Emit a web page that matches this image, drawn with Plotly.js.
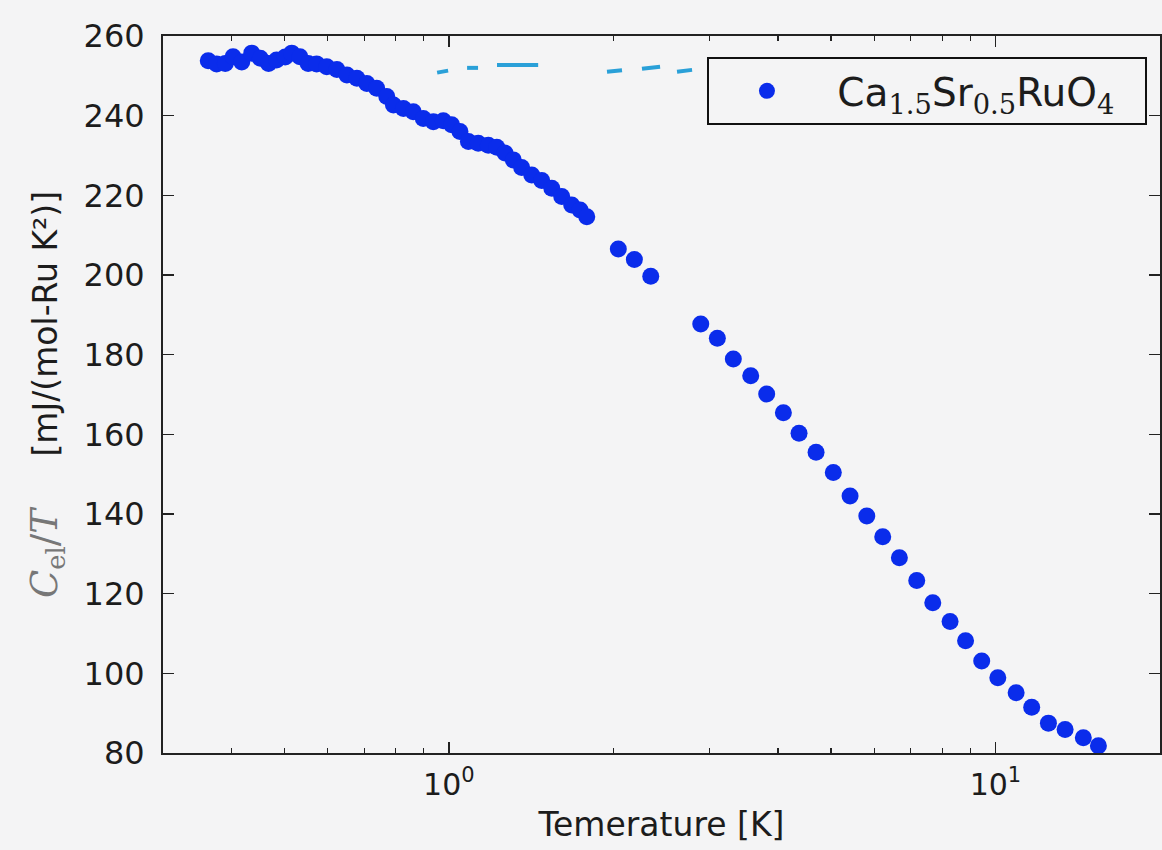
<!DOCTYPE html>
<html>
<head>
<meta charset="utf-8">
<script src="https://cdn.plot.ly/plotly-3.0.1.min.js"></script>
<style>
  html, body { margin: 0; padding: 0; background: #f4f4f5; }
  #chart { width: 1162px; height: 850px; }
</style>
</head>
<body>
<div id="chart"></div>
<script>
// Temperature [K] of the measured points
const temperature = [
  0.363, 0.376, 0.390, 0.403, 0.418, 0.436, 0.452, 0.468, 0.484, 0.502,
  0.516, 0.534, 0.553, 0.573, 0.598, 0.624, 0.651, 0.679, 0.708, 0.738,
  0.770, 0.792, 0.826, 0.861, 0.898, 0.937, 0.977, 1.012, 1.048, 1.086,
  1.132, 1.181, 1.224, 1.267, 1.312, 1.359, 1.418, 1.479, 1.543, 1.609,
  1.678, 1.738, 1.788,
  2.042, 2.185, 2.341, 2.890, 3.099, 3.315, 3.567, 3.815, 4.093, 4.372,
  4.697, 5.051, 5.420, 5.816, 6.220, 6.672, 7.178, 7.680, 8.260, 8.817,
  9.438, 10.10, 10.91, 11.65, 12.50, 13.41, 14.48, 15.43
];
// C_el/T [mJ/(mol-Ru K^2)]
const cElOverT = [
  253.8, 253.0, 253.1, 254.8, 253.5, 255.7, 254.4, 253.1, 254.0, 254.7,
  255.7, 254.8, 253.1, 253.0, 252.3, 251.6, 250.2, 249.4, 248.1, 246.9,
  244.8, 242.7, 241.8, 241.0, 239.3, 238.5, 238.7, 237.7, 236.0, 233.5,
  233.1, 232.6, 232.1, 230.6, 228.9, 227.0, 225.1, 223.7, 221.8, 219.7,
  217.6, 216.3, 214.6,
  206.5, 203.9, 199.7, 187.7, 184.1, 178.9, 174.7, 170.1, 165.4, 160.3,
  155.5, 150.4, 144.5, 139.5, 134.3, 129.0, 123.3, 117.7, 113.0, 108.2,
  103.1, 98.9, 95.1, 91.5, 87.5, 85.9, 83.8, 81.8
];
// hand-drawn cyan pen strokes near the top (null separates strokes)
const strokeT = [0.952, 0.997, null, 1.080, 1.131, null, 1.225, 1.457, null, 1.947, 2.074, null, 2.256, 2.435, null, 2.615, 2.786];
const strokeC = [250.8, 251.3, null, 252.0, 252.0, null, 252.7, 252.7, null, 251.0, 251.4, null, 251.8, 252.3, null, 251.0, 251.5];

const yTicks = [80, 100, 120, 140, 160, 180, 200, 220, 240, 260];
const xMajorTicks = [1, 10];
const xMajorLabels = ['10<sup>0</sup>', '10<sup>1</sup>'];
const xMinorTicks = [0.3, 0.4, 0.5, 0.6, 0.7, 0.8, 0.9, 2, 3, 4, 5, 6, 7, 8, 9, 20];

const sans = "'DejaVu Sans', 'Liberation Sans', sans-serif";
const bg = '#f4f4f5';
const ink = '#1c1c1c';

const legendName = '&nbsp;Ca<sub><span style="font-family:DejaVu Serif">1.5</span></sub>' +
  'Sr<sub><span style="font-family:DejaVu Serif">0.5</span></sub>' +
  'RuO<sub><span style="font-family:DejaVu Serif">4</span></sub>&nbsp;&nbsp;';

const traces = [
  {
    x: strokeT, y: strokeC, type: 'scatter', mode: 'lines',
    line: { color: '#2aa0d8', width: 4 }, showlegend: false, hoverinfo: 'skip'
  },
  {
    x: temperature, y: cElOverT, type: 'scatter', mode: 'markers',
    name: legendName,
    marker: { color: '#0a2ceb', size: 17, line: { width: 0 } }
  }
];

const layout = {
  width: 1162, height: 850,
  paper_bgcolor: bg, plot_bgcolor: bg,
  margin: { l: 163, r: 2, t: 36, b: 97 },
  font: { family: sans, color: ink, size: 30 },
  showlegend: true,
  legend: {
    x: 0.5456, y: 0.9707, xanchor: 'left', yanchor: 'top',
    bgcolor: bg, bordercolor: '#111', borderwidth: 2,
    font: { family: sans, size: 39, color: ink },
    itemwidth: 106
  },
  xaxis: {
    type: 'log',
    range: [Math.log10(0.3), Math.log10(20)],
    tickmode: 'array', tickvals: xMajorTicks, ticktext: xMajorLabels,
    ticks: 'inside', ticklen: 11, tickwidth: 1.5, tickcolor: '#222',
    minor: { tickmode: 'array', tickvals: xMinorTicks, ticks: 'inside', ticklen: 5, tickwidth: 1.2, tickcolor: '#222', showgrid: false },
    showline: true, linecolor: '#222', linewidth: 2, mirror: 'ticks',
    showgrid: false, zeroline: false,
    tickfont: { family: sans, size: 30, color: ink },
    ticklabelstandoff: 4,
    title: { text: 'Temerature [K]', font: { family: sans, size: 33, color: ink }, standoff: 12 }
  },
  yaxis: {
    range: [80, 260],
    tickmode: 'array', tickvals: yTicks,
    ticks: 'inside', ticklen: 11, tickwidth: 1.5, tickcolor: '#222',
    showline: true, linecolor: '#222', linewidth: 2, mirror: 'ticks',
    showgrid: false, zeroline: false,
    tickfont: { family: sans, size: 32, color: ink },
    ticklabelstandoff: 10,
    title: {
      text: '<span style="font-family:DejaVu Serif;color:#777;font-size:37px"><i>C</i><sub>el</sub>/<i>T</i></span>&nbsp;&nbsp;&nbsp;&nbsp;&nbsp;[mJ/(mol-Ru K²)]',
      font: { family: sans, size: 33, color: ink }, standoff: 16
    }
  }
};

Plotly.newPlot('chart', traces, layout, { displayModeBar: false, staticPlot: true });
</script>
</body>
</html>
